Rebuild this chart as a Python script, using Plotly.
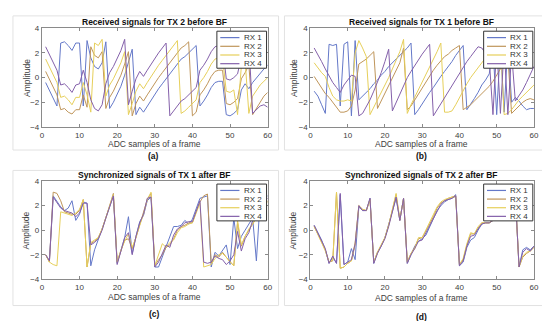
import plotly.graph_objects as go

x = list(range(1, 61))

# (a) Received signals for TX 2 before BF
a_rx1 = [-0.4,-1.0,-1.7,-2.3,2.8,2.9,2.6,2.2,2.8,2.8,
         -2.3,3.0,1.6,0.9,0.7,1.2,2.9,-2.5,-2.0,-1.4,
         -0.7,0.2,1.2,2.3,-3.0,-2.4,-2.8,-2.3,-1.8,-1.4,
         -0.9,-0.5,-0.1,0.3,0.7,1.1,1.5,1.7,2.0,2.3,
         2.6,-2.3,-1.9,-1.4,-0.8,-0.4,-0.3,-0.3,-3.0,-3.1,
         -2.9,-2.6,-1.0,-0.5,-0.9,-0.4,0.0,0.4,0.7,1.0]
a_rx2 = [0.5,-0.1,-0.8,-1.4,-2.6,-2.5,-2.8,-2.95,-2.6,-2.6,
         -1.4,-2.4,2.5,1.8,1.6,2.1,-2.5,-1.6,-1.1,-0.5,
         0.2,1.1,2.1,-3.1,-2.1,-1.5,-1.9,-1.4,-0.9,-0.5,
         0.0,0.4,0.8,1.2,1.6,2.0,2.4,2.6,2.9,-3.1,
         -2.8,-1.4,-1.0,-0.5,0.1,0.5,0.6,0.6,-2.1,-2.2,
         -2.0,-1.7,-0.1,0.4,1.0,-3.0,-2.5,-1.9,-1.5,-1.2]
a_rx3 = [1.5,0.9,0.2,-0.4,-1.6,-1.5,-1.8,-2.2,-1.6,-1.6,
         -0.4,-1.4,-2.8,2.8,2.6,3.1,-1.5,-0.6,-0.1,0.5,
         1.2,2.1,-3.0,-2.1,-1.1,-0.5,-0.9,-0.4,0.1,0.5,
         1.0,1.4,1.8,2.2,2.6,3.0,-2.9,-2.7,-2.4,-2.1,
         -1.8,-0.4,0.0,0.5,1.1,1.5,1.6,1.6,-1.1,-1.2,
         -1.0,-3.0,0.9,1.4,-2.9,-1.5,-1.0,-0.6,-0.3,0.0]
a_rx4 = [2.5,1.9,1.2,0.6,-0.6,-0.5,-0.8,-1.2,-0.6,-0.5,
         0.6,-0.4,-1.8,-2.5,-2.7,-2.2,-0.5,0.4,0.9,1.5,
         2.2,3.1,-2.2,-1.1,-0.1,0.5,0.1,0.6,1.1,1.5,
         2.0,2.4,2.8,-3.1,-2.7,-2.3,-1.9,-1.7,-1.4,-1.1,
         -0.8,0.6,1.0,1.5,2.1,2.5,2.6,2.6,-0.1,-0.2,
         0.0,0.3,1.7,2.4,2.8,-2.9,-2.6,-2.3,-2.2,-2.4]

# (b) Received signals for TX 1 before BF
b_rx1 = [-1.1,-1.5,-2.2,-2.9,2.7,2.6,2.7,-2.3,2.7,2.9,
         -3.1,3.0,-1.8,-1.5,-1.2,-0.9,-0.5,-0.2,0.2,0.5,
         0.9,1.2,1.5,1.8,2.1,2.4,2.8,-3.0,-2.6,-2.1,
         -1.6,-1.2,-0.8,-0.3,0.1,0.5,0.9,1.3,1.8,2.2,
         2.6,-2.6,-2.2,-1.7,-1.2,-0.6,-0.2,0.3,2.5,-3.0,
         2.6,-2.8,2.8,-2.0,-1.6,-1.9,-2.3,-2.6,-2.5,-2.5]
b_rx2 = [0.1,-0.4,-0.9,-1.3,-1.6,-2.0,-2.5,-2.8,-2.8,-2.7,
         -2.3,-1.0,1.1,1.3,1.5,1.8,2.1,-2.5,-1.9,-1.2,
         -0.6,0.0,0.6,1.2,2.4,-2.6,-2.3,-1.8,-1.3,-0.8,
         -0.3,0.2,0.6,1.0,1.4,1.7,1.9,2.2,2.4,2.6,
         -2.6,-2.4,-2.2,-1.9,-1.6,-1.3,-1.0,-0.7,-0.3,0.2,
         0.7,1.2,1.7,-2.9,-2.6,-2.3,-2.0,-1.8,-1.7,-1.8]
b_rx3 = [1.2,0.8,0.4,0.1,-0.8,-1.5,-1.8,-1.9,-1.9,-1.8,
         -1.9,2.0,3.0,2.4,1.7,-3.0,-2.4,-1.9,-1.3,-0.6,
         0.0,0.7,1.4,2.1,3.1,-2.9,-2.2,-1.6,-0.9,-0.3,
         0.3,0.9,1.5,2.1,2.8,-2.8,-2.8,-2.7,-2.2,-1.6,
         -1.0,-0.5,0.0,0.4,0.8,1.2,1.6,1.9,2.3,2.7,
         3.0,-3.0,-2.9,-2.6,-2.2,-1.8,-1.5,-1.2,-0.9,-0.6]
b_rx4 = [2.4,1.9,1.3,0.7,0.1,-0.4,-0.8,-1.2,-0.6,-0.2,
         0.2,0.1,-3.1,-2.9,-2.4,-1.8,-1.1,-0.4,0.4,1.3,
         2.3,-2.7,-2.0,-1.3,-0.6,0.0,0.5,1.0,1.4,1.9,
         2.3,2.7,-3.1,-2.6,-2.1,-1.6,-1.1,-0.6,-0.1,0.3,
         0.8,1.3,1.7,2.1,2.5,2.4,2.0,1.5,-3.0,2.6,
         -2.9,2.5,-3.0,2.0,-1.9,-1.5,-1.0,-0.4,0.3,0.9]

# (c) Synchronized signals of TX 1 after BF
c_rx1 = [-2.0,-2.5,2.8,2.3,1.9,1.6,1.8,2.4,0.8,1.3,
         2.3,2.2,-2.9,-1.6,-0.8,0.1,1.0,1.9,2.8,-2.7,
         -1.7,-0.6,1.1,-1.9,-0.5,0.7,1.2,2.4,2.7,-3.0,
         -3.0,-2.2,-1.3,-0.6,0.3,0.3,0.4,0.8,0.5,0.9,
         1.7,2.6,2.7,2.8,-3.0,-1.8,-2.1,-1.6,-1.2,-2.8,
         1.0,-1.5,-0.5,0.0,0.5,1.0,-2.5,2.4,2.6,2.8]
c_rx2 = [-2.0,-2.6,3.1,3.0,2.4,1.5,1.4,1.3,1.3,1.6,
         2.5,-3.0,-1.1,-0.9,-0.6,0.1,1.0,2.0,3.0,-2.6,
         -1.6,-0.8,-0.7,-1.5,-0.6,0.5,1.4,2.5,3.0,-2.9,
         -2.4,-2.0,-1.4,-1.2,-0.7,0.0,0.3,0.4,0.6,0.6,
         1.5,2.3,2.8,2.95,-2.7,-2.0,-2.2,-1.8,-2.2,-2.6,
         -2.9,0.6,-1.3,-0.5,0.0,0.6,1.0,1.7,2.1,2.4]
c_rx3 = [-2.0,-2.6,-2.8,-2.9,1.5,1.4,1.3,1.2,1.4,1.7,
         2.5,-3.0,-1.0,-0.8,-0.6,0.1,1.0,2.0,2.9,-2.6,
         -1.6,-0.9,-0.3,-1.4,-0.6,0.4,1.3,2.5,3.1,-2.9,
         -2.0,-1.1,-1.4,-1.0,-0.8,-0.2,0.2,0.3,0.5,0.6,
         1.4,2.2,-3.0,-2.9,-2.8,-2.3,-2.0,-1.9,-2.2,-2.6,
         -2.9,0.8,-1.2,-0.5,0.1,0.5,1.0,1.6,2.0,2.3]
c_rx4 = [-2.0,-2.5,2.7,2.2,1.8,1.6,1.5,1.4,1.1,1.4,
         2.2,2.2,-1.2,-1.0,-0.7,0.0,1.0,1.9,2.8,-2.8,
         -1.7,-0.6,-0.2,-2.0,-0.5,0.6,1.3,2.6,2.7,-3.0,
         -2.6,-1.9,-1.2,-1.4,-0.4,0.1,0.3,0.6,0.7,0.7,
         1.5,2.4,-2.6,-2.7,-2.6,-2.1,-2.3,-2.4,-2.8,-2.5,
         -2.0,-0.1,-1.7,-0.7,-0.2,0.8,1.0,1.8,2.3,2.6]

# (d) Synchronized signals of TX 2 after BF
d_rx1 = [0.4,-0.2,-0.8,-1.6,-2.7,-2.2,-2.7,2.9,-2.8,-2.6,
         -1.5,-2.4,1.9,1.6,1.6,2.6,-2.7,-1.8,-1.3,-0.6,
         0.4,1.5,2.6,0.8,2.6,-2.7,-2.0,-1.3,-0.9,-0.7,
         -0.4,0.3,1.0,1.6,2.0,2.3,2.5,2.6,2.9,-2.9,
         -2.6,-1.4,-0.8,-0.6,0.0,0.5,0.6,0.6,0.8,1.2,
         1.5,1.9,2.2,2.5,2.8,-3.0,-1.6,-1.4,-1.6,-1.3]
d_rx2 = [0.3,-0.3,-0.9,-1.6,-2.6,-2.5,3.1,-3.1,-3.0,-2.7,
         -2.5,-1.2,2.0,1.7,1.6,2.5,-2.6,-1.8,-1.2,-0.6,
         0.4,1.6,2.9,0.8,2.6,-2.6,-1.9,-1.4,-0.7,-0.6,
         -0.1,0.5,1.1,1.8,2.2,2.4,2.6,2.7,2.8,-2.8,
         -2.4,-1.2,-0.3,-0.3,0.2,0.6,0.6,0.6,0.8,1.2,
         1.5,1.9,2.2,2.5,2.8,-3.0,-2.2,-1.9,-1.7,-1.4]
d_rx3 = [0.3,-0.3,-1.0,-1.7,-2.6,-2.4,3.1,-3.1,-3.0,-2.7,
         -2.5,-1.0,2.0,1.7,1.6,2.5,-2.6,-1.8,-1.2,-0.6,
         0.4,1.7,3.0,0.9,2.6,-2.6,-1.9,-1.5,-0.6,-0.6,
         0.0,0.6,1.3,1.9,2.3,2.5,2.6,2.7,2.7,-2.8,
         -2.3,-1.1,-0.2,-0.3,0.3,0.6,0.6,0.6,0.8,1.2,
         1.5,1.9,2.2,2.5,2.8,-3.0,-2.1,-1.8,-1.7,-1.4]
d_rx4 = [0.4,-0.2,-0.8,-1.5,-2.7,-2.1,-2.7,3.0,-2.8,-2.6,
         -2.4,-1.1,2.0,1.6,1.6,2.6,-2.7,-1.9,-1.3,-0.7,
         0.3,1.5,2.7,0.8,2.6,-2.7,-2.0,-1.5,-0.9,-0.8,
         -0.2,0.4,1.0,1.6,2.1,2.4,2.5,2.6,2.8,-2.9,
         -2.5,-1.3,-0.5,-0.4,0.1,0.5,0.6,0.6,0.8,1.2,
         1.5,1.9,2.2,2.5,2.8,-3.0,-1.8,-1.5,-1.7,-1.3]

series_names = ["RX 1", "RX 2", "RX 3", "RX 4"]
colors = ["#6478c8", "#bf955a", "#e6cf5a", "#8460aa"]
titles = ["Received signals for TX 2 before BF", "Received signals for TX 1 before BF",
          "Synchronized signals of TX 1 after BF", "Synchronized signals of TX 2 after BF"]
panel_labels = ["(a)", "(b)", "(c)", "(d)"]
x_ticks = [0, 10, 20, 30, 40, 50, 60]
y_ticks = [-4, -2, 0, 2, 4]
x_label = "ADC samples of a frame"
y_label = "Amplitude"

panels = [[a_rx1, a_rx2, a_rx3, a_rx4], [b_rx1, b_rx2, b_rx3, b_rx4],
          [c_rx1, c_rx2, c_rx3, c_rx4], [d_rx1, d_rx2, d_rx3, d_rx4]]

W, H = 550, 321
FONT = "Liberation Sans, Arial, sans-serif"

# pixel geometry of each panel's plot area: (left, right, top, bottom)
boxes = [(32.3, 261.0, 16.7, 118.3), (304.3, 530.7, 16.7, 118.3),
         (32.3, 261.0, 174.0, 275.0), (304.3, 530.7, 174.0, 275.0)]
title_pos = [(146.5, 10), (416.5, 10), (146.5, 167.3), (416.5, 167.3)]
xlab_pos = [(146.5, 136), (416.5, 136), (146.5, 293.5), (416.5, 294)]
ylab_x = [16.5, 287, 16.5, 287]
plab_pos = [(145, 148.3), (416.7, 148.3), (146.7, 311.0), (416.7, 313.5)]
frames = [(3, 272, 4, 142), (278, 547, 4, 142), (3, 272, 163, 302), (278, 547, 163, 302)]

fig = go.Figure()
layout = dict(width=W, height=H, margin=dict(l=0, r=0, t=0, b=0),
              paper_bgcolor="white", plot_bgcolor="white", showlegend=False,
              font=dict(family=FONT, size=8, color="#333333"))
annotations = []
shapes = []

def px_x(v):
    return v / W

def px_y(v):
    return 1 - v / H

def label(text, px, py, size, color, angle=0):
    return dict(text=text, x=px_x(px), y=px_y(py), xref="paper", yref="paper",
                xanchor="center", yanchor="middle", showarrow=False, textangle=angle,
                font=dict(size=size, color=color))

for i, (data, box) in enumerate(zip(panels, boxes)):
    n = "" if i == 0 else str(i + 1)
    xa, ya = "x" + n, "y" + n
    l, r, t, b = box
    for name, vals, col in zip(series_names, data, colors):
        fig.add_trace(go.Scatter(x=x, y=vals, mode="lines", name=name,
                                 line=dict(color=col, width=1), xaxis=xa, yaxis=ya))
    axis_common = dict(showgrid=False, zeroline=False, showline=True, linecolor="#8a8a8a",
                       linewidth=1, mirror="ticks", ticks="inside", ticklen=3,
                       tickcolor="#8a8a8a", tickfont=dict(size=8, color="#404040"))
    layout["xaxis" + n] = dict(axis_common, domain=[px_x(l), px_x(r)], range=[0, 60],
                               tickvals=x_ticks, anchor=ya)
    layout["yaxis" + n] = dict(axis_common, domain=[px_y(b), px_y(t)], range=[-4, 4],
                               tickvals=y_ticks, anchor=xa)
    annotations.append(label("<b>" + titles[i] + "</b>", *title_pos[i], 8.5, "#111111"))
    annotations.append(label(x_label, *xlab_pos[i], 8.5, "#404040"))
    annotations.append(label(y_label, ylab_x[i], (t + b) / 2, 8.5, "#404040", -90))
    annotations.append(label("<b>" + panel_labels[i] + "</b>", *plab_pos[i], 8.5, "#111111"))
    # light frame around each sub-figure
    fl, fr, ft, fb = frames[i]
    shapes.append(dict(type="rect", xref="paper", yref="paper", x0=px_x(fl), x1=px_x(fr),
                       y0=px_y(fb), y1=px_y(ft), line=dict(color="#e2e2e2", width=1),
                       layer="below"))
    # in-axes legend box
    xd, yd = xa + " domain", ya + " domain"
    shapes.append(dict(type="rect", xref=xd, yref=yd, x0=0.775, x1=0.995, y0=0.595, y1=0.97,
                       fillcolor="white", line=dict(color="#333333", width=1), layer="above"))
    for k, (name, col) in enumerate(zip(series_names, colors)):
        yy = 0.905 - k * 0.088
        shapes.append(dict(type="line", xref=xd, yref=yd, x0=0.79, x1=0.875, y0=yy, y1=yy,
                           line=dict(color=col, width=1.2), layer="above"))
        annotations.append(dict(text=name, xref=xd, yref=yd, x=0.885, y=yy, xanchor="left",
                                yanchor="middle", showarrow=False,
                                font=dict(size=8, color="#333333")))

layout["annotations"] = annotations
layout["shapes"] = shapes
fig.update_layout(**layout)
fig.write_html("out.html")
